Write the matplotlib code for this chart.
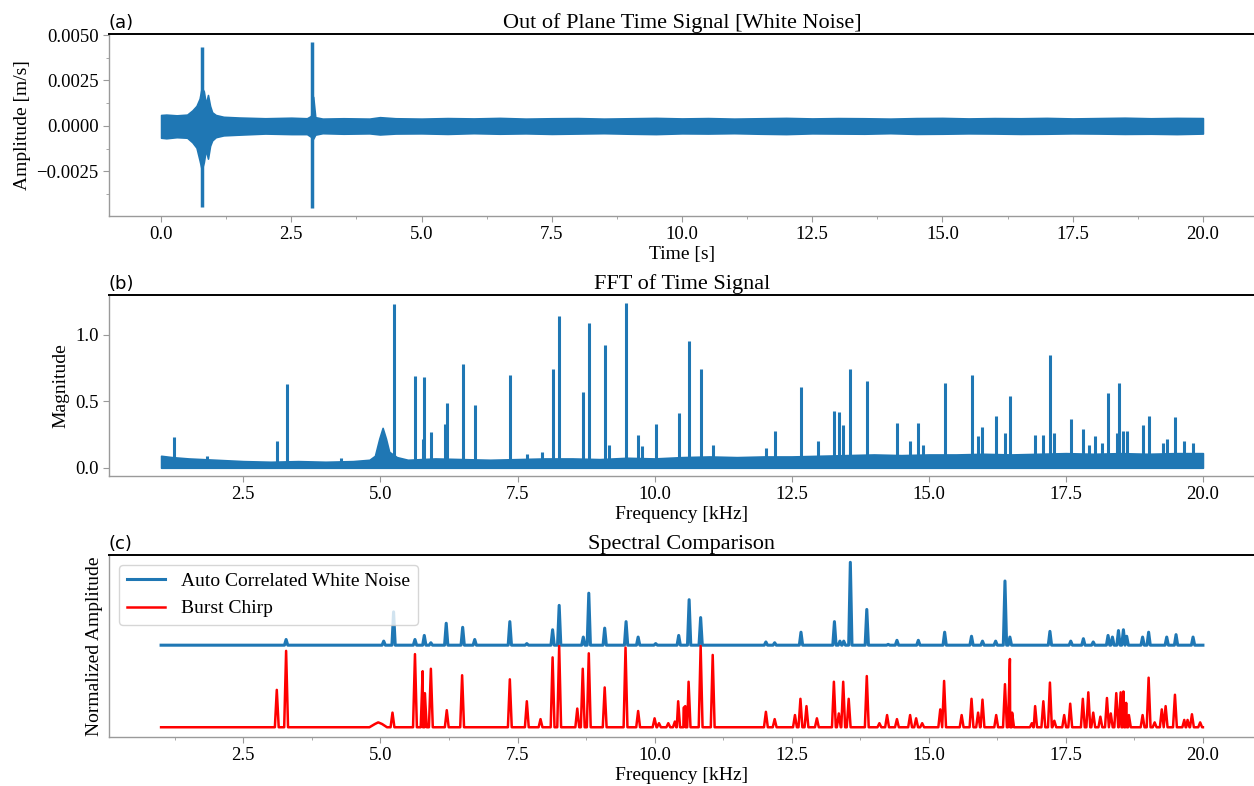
import matplotlib
matplotlib.use("Agg")
import matplotlib.pyplot as plt
from matplotlib.ticker import MultipleLocator, FuncFormatter
import numpy as np

plt.rcParams['font.family'] = 'serif'
plt.rcParams['font.serif'] = ['Liberation Serif', 'DejaVu Serif']
plt.rcParams['axes.unicode_minus'] = True

BLUE = '#1f77b4'

# (a) time signal: noise band envelope [m/s] and the two impact spikes
time_env = [0.0, 0.1, 0.3, 0.5, 0.6, 0.68, 0.74, 0.78, 0.82, 0.86, 0.9, 0.94, 0.98, 1.05,
            1.2, 1.5, 2.0, 2.5, 2.8, 2.88, 2.92, 2.96, 3.1, 3.5, 4.0, 4.2, 4.5, 5.0,
            5.5, 6.0, 6.5, 7.0, 7.5, 8.0, 8.5, 9.0, 9.5, 10.0, 10.5, 11.0, 11.5, 12.0,
            12.5, 13.0, 13.5, 14.0, 14.5, 15.0, 15.5, 16.0, 16.5, 17.0, 17.5, 18.0,
            18.5, 19.0, 19.5, 20.0]
env_upper = [0.00060, 0.00062, 0.00058, 0.00062, 0.00085, 0.00110, 0.00150, 0.00210,
             0.00190, 0.00120, 0.00170, 0.00110, 0.00075, 0.00060, 0.00050, 0.00046,
             0.00042, 0.00045, 0.00042, 0.00055, 0.00160, 0.00048, 0.00040, 0.00042,
             0.00040, 0.00048, 0.00042, 0.00040, 0.00043, 0.00041, 0.00044, 0.00040,
             0.00042, 0.00043, 0.00040, 0.00042, 0.00044, 0.00041, 0.00043, 0.00040,
             0.00042, 0.00044, 0.00041, 0.00043, 0.00042, 0.00040, 0.00043, 0.00044,
             0.00041, 0.00043, 0.00042, 0.00044, 0.00041, 0.00043, 0.00045, 0.00042,
             0.00044, 0.00043]
env_lower = [-0.00065, -0.00068, -0.00062, -0.00065, -0.00090, -0.00120, -0.00190, -0.00240,
             -0.00200, -0.00130, -0.00180, -0.00110, -0.00080, -0.00062, -0.00052, -0.00048,
             -0.00042, -0.00045, -0.00045, -0.00060, -0.00070, -0.00048, -0.00040, -0.00043,
             -0.00041, -0.00047, -0.00042, -0.00041, -0.00044, -0.00040, -0.00043, -0.00041,
             -0.00044, -0.00042, -0.00040, -0.00043, -0.00045, -0.00041, -0.00042, -0.00040,
             -0.00043, -0.00045, -0.00041, -0.00042, -0.00043, -0.00040, -0.00044, -0.00043,
             -0.00041, -0.00042, -0.00044, -0.00043, -0.00041, -0.00042, -0.00044, -0.00043,
             -0.00045, -0.00042]
spike_t = [0.78, 2.90]
spike_hi = [0.00434, 0.00460]
spike_lo = [-0.00445, -0.00450]

# (b) FFT magnitude: noise floor and resonance peaks [kHz]
floor_f = [1.0, 1.2, 1.5, 2.0, 2.5, 3.0, 3.5, 4.0, 4.5, 4.8, 4.9, 4.98, 5.04, 5.1, 5.16,
           5.3, 5.5, 6.0, 6.5, 7.0, 7.5, 8.0, 8.5, 9.0, 9.5, 10.0, 10.5, 11.0, 11.5,
           12.0, 12.5, 13.0, 13.5, 14.0, 14.5, 15.0, 15.5, 16.0, 16.5, 17.0, 17.5,
           18.0, 18.5, 19.0, 19.5, 20.0]
floor_mag = [0.09, 0.08, 0.07, 0.06, 0.05, 0.045, 0.05, 0.045, 0.05, 0.06, 0.09, 0.22,
             0.30, 0.22, 0.12, 0.08, 0.06, 0.07, 0.065, 0.06, 0.065, 0.07, 0.07, 0.065,
             0.075, 0.07, 0.08, 0.085, 0.08, 0.085, 0.085, 0.09, 0.095, 0.10, 0.095,
             0.10, 0.10, 0.105, 0.10, 0.105, 0.11, 0.105, 0.11, 0.105, 0.11, 0.11]
fft_peak_f = [1.23, 1.84, 3.11, 3.30, 4.28, 5.24, 5.63, 5.77, 5.80, 5.92, 6.17, 6.21, 6.50,
              6.72, 7.36, 7.67, 7.94, 8.14, 8.26, 8.70, 8.80, 9.09, 9.17, 9.48, 9.70,
              9.77, 10.02, 10.44, 10.63, 10.84, 11.06, 12.03, 12.19, 12.67, 12.98, 13.28,
              13.36, 13.44, 13.57, 13.87, 14.42, 14.66, 14.81, 14.89, 15.29, 15.78, 15.90,
              15.98, 16.23, 16.39, 16.48, 16.94, 17.09, 17.21, 17.29, 17.59, 17.82, 17.93,
              18.04, 18.16, 18.27, 18.43, 18.47, 18.55, 18.61, 18.90, 19.01, 19.27, 19.34,
              19.50, 19.66, 19.82]
fft_peak_mag = [0.235, 0.085, 0.20, 0.63, 0.07, 1.23, 0.69, 0.22, 0.68, 0.27, 0.33, 0.49,
                0.78, 0.47, 0.70, 0.10, 0.12, 0.74, 1.14, 0.57, 1.09, 0.92, 0.17, 1.24,
                0.25, 0.16, 0.33, 0.41, 0.955, 0.74, 0.17, 0.15, 0.28, 0.61, 0.20, 0.43,
                0.42, 0.32, 0.74, 0.65, 0.34, 0.20, 0.34, 0.17, 0.64, 0.70, 0.24, 0.31,
                0.39, 0.26, 0.54, 0.25, 0.25, 0.85, 0.26, 0.37, 0.29, 0.17, 0.24, 0.19,
                0.56, 0.26, 0.64, 0.28, 0.28, 0.32, 0.39, 0.19, 0.22, 0.38, 0.20, 0.19]

# (c) normalized spectra; white noise trace is stacked above the chirp trace
noise_base = 1.01
noise_peak_f = [3.28, 5.06, 5.24, 5.63, 5.80, 5.92, 6.20, 6.50, 6.72, 7.36, 7.67, 8.14, 8.26,
                8.70, 8.80, 9.09, 9.48, 9.70, 10.02, 10.44, 10.63, 10.84, 12.03, 12.19,
                12.67, 13.28, 13.38, 13.45, 13.57, 13.87, 14.26, 14.42, 14.81, 15.29,
                15.78, 15.98, 16.22, 16.39, 16.48, 17.21, 17.59, 17.82, 18.00, 18.27,
                18.35, 18.46, 18.55, 18.61, 18.90, 19.01, 19.34, 19.51, 19.82]
noise_peak_amp = [1.08, 1.06, 1.42, 1.08, 1.13, 1.04, 1.28, 1.23, 1.08, 1.30, 1.03, 1.20,
                  1.50, 1.11, 1.65, 1.22, 1.30, 1.11, 1.03, 1.13, 1.57, 1.35, 1.05, 1.04,
                  1.17, 1.30, 1.06, 1.06, 2.03, 1.45, 1.02, 1.07, 1.07, 1.17, 1.12, 1.06,
                  1.06, 1.80, 1.11, 1.18, 1.06, 1.09, 1.05, 1.13, 1.11, 1.19, 1.20, 1.12,
                  1.11, 1.17, 1.11, 1.14, 1.11]
chirp_base = 0.0
chirp_peak_f = [3.11, 3.28, 5.22, 5.63, 5.77, 5.81, 5.92, 6.21, 6.49, 7.36, 7.67, 7.92,
                8.14, 8.26, 8.59, 8.69, 8.80, 9.09, 9.47, 9.70, 10.00, 10.08, 10.25, 10.37,
                10.43, 10.53, 10.56, 10.62, 10.84, 11.06, 12.03, 12.19, 12.56, 12.66,
                12.77, 12.96, 13.27, 13.36, 13.44, 13.54, 13.87, 14.10, 14.24, 14.42,
                14.66, 14.77, 14.88, 15.21, 15.28, 15.60, 15.78, 15.90, 15.98, 16.23,
                16.39, 16.48, 16.52, 16.88, 16.94, 17.09, 17.21, 17.29, 17.47, 17.58,
                17.81, 17.91, 18.00, 18.13, 18.25, 18.32, 18.42, 18.50, 18.55, 18.60,
                18.65, 18.90, 19.01, 19.12, 19.25, 19.32, 19.49, 19.66, 19.72, 19.80, 19.95]
chirp_peak_amp = [0.46, 0.94, 0.18, 0.90, 0.69, 0.42, 0.72, 0.21, 0.64, 0.59, 0.32, 0.10,
                  0.86, 1.00, 0.23, 0.72, 0.91, 0.49, 0.98, 0.20, 0.11, 0.05, 0.05, 0.07,
                  0.32, 0.24, 0.26, 0.56, 1.00, 0.89, 0.19, 0.10, 0.15, 0.35, 0.26, 0.11,
                  0.56, 0.17, 0.56, 0.35, 0.63, 0.05, 0.15, 0.10, 0.15, 0.11, 0.05, 0.22,
                  0.57, 0.15, 0.35, 0.18, 0.34, 0.15, 0.53, 0.84, 0.18, 0.05, 0.26, 0.32,
                  0.55, 0.08, 0.15, 0.29, 0.35, 0.43, 0.18, 0.13, 0.36, 0.17, 0.42, 0.43,
                  0.44, 0.30, 0.15, 0.15, 0.61, 0.06, 0.22, 0.26, 0.40, 0.09, 0.09, 0.16, 0.06]
chirp_hump_f = [4.80, 4.90, 4.96, 5.03, 5.12]
chirp_hump_amp = [0.0, 0.04, 0.06, 0.04, 0.0]


def spectrum_trace(base, freqs, amps, half_width, extra_f=(), extra_a=()):
    # narrow spikes joined by a flat baseline from 1 to 20 kHz
    pts = [(1.0, base), (20.0, base)]
    for f, a in zip(freqs, amps):
        pts += [(f - half_width, base), (f, a), (f + half_width, base)]
    for f, a in zip(extra_f, extra_a):
        pts.append((f, base + a))
    pts.sort(key=lambda p: p[0])
    return [p[0] for p in pts], [p[1] for p in pts]


def style_axes(ax):
    ax.spines['right'].set_visible(False)
    ax.spines['top'].set_color('black')
    ax.spines['top'].set_linewidth(1.4)
    for side in ('left', 'bottom'):
        ax.spines[side].set_color('#9a9a9a')
        ax.spines[side].set_linewidth(1.0)
    ax.tick_params(which='both', direction='out', color='#9a9a9a', labelsize=13.5)
    ax.tick_params(which='major', length=4)
    ax.tick_params(which='minor', length=2.5)


fig = plt.figure(figsize=(12.54, 7.86), dpi=100)
left, width = 109 / 1254, 1146 / 1254
ax_a = fig.add_axes([left, 1 - 216 / 786, width, 182 / 786])
ax_b = fig.add_axes([left, 1 - 476 / 786, width, 181 / 786])
ax_c = fig.add_axes([left, 1 - 737 / 786, width, 182 / 786])

# (a)
ax_a.fill_between(time_env, env_lower, env_upper, color=BLUE, linewidth=1.2, edgecolor=BLUE)
ax_a.vlines(spike_t, spike_lo, spike_hi, color=BLUE, linewidth=2.5)
ax_a.set_xlim(-1.0, 21.0)
ax_a.xaxis.set_major_locator(MultipleLocator(2.5))
ax_a.xaxis.set_minor_locator(MultipleLocator(1.25))
ax_a.yaxis.set_major_locator(MultipleLocator(0.0025))
ax_a.yaxis.set_minor_locator(MultipleLocator(0.00125))
ax_a.yaxis.set_major_formatter(FuncFormatter(lambda v, pos: f'{v:.4f}'.replace('-', '\u2212')))
ax_a.set_xlabel('Time [s]', fontsize=14, labelpad=2)
ax_a.set_ylabel('Amplitude [m/s]', fontsize=14)
ax_a.set_title('Out of Plane Time Signal [White Noise]', fontsize=16, pad=4)
ax_a.set_title('(a)', loc='left', fontsize=13, fontfamily='DejaVu Sans', pad=4)

# (b)
ax_b.fill_between(floor_f, 0, floor_mag, color=BLUE, linewidth=1.2, edgecolor=BLUE)
ax_b.vlines(fft_peak_f, 0, fft_peak_mag, color=BLUE, linewidth=2.2)
ax_b.set_xlim(0.05, 20.95)
ax_b.set_ylim(-0.062, 1.30)
ax_b.xaxis.set_major_locator(MultipleLocator(2.5))
ax_b.yaxis.set_major_locator(MultipleLocator(0.5))
ax_b.set_xlabel('Frequency [kHz]', fontsize=14, labelpad=2)
ax_b.set_ylabel('Magnitude', fontsize=14)
ax_b.set_title('FFT of Time Signal', fontsize=16, pad=4)
ax_b.set_title('(b)', loc='left', fontsize=13, fontfamily='DejaVu Sans', pad=4)

# (c)
nx, ny = spectrum_trace(noise_base, noise_peak_f, noise_peak_amp, 0.03)
cx, cy = spectrum_trace(chirp_base, chirp_peak_f, chirp_peak_amp, 0.035,
                        chirp_hump_f, chirp_hump_amp)
ax_c.plot(nx, ny, color=BLUE, linewidth=2.2, label='Auto Correlated White Noise')
ax_c.plot(cx, cy, color='red', linewidth=1.8, label='Burst Chirp')
ax_c.set_xlim(0.05, 20.95)
ax_c.set_ylim(-0.12, 2.12)
ax_c.set_yticks([])
ax_c.xaxis.set_major_locator(MultipleLocator(2.5))
ax_c.xaxis.set_minor_locator(MultipleLocator(1.25))
ax_c.set_xlabel('Frequency [kHz]', fontsize=14, labelpad=2)
ax_c.set_ylabel('Normalized Amplitude', fontsize=14)
ax_c.set_title('Spectral Comparison', fontsize=16, pad=4)
ax_c.set_title('(c)', loc='left', fontsize=13, fontfamily='DejaVu Sans', pad=4)
ax_c.legend(loc='upper left', fontsize=14, handlelength=2.0)

for ax in (ax_a, ax_b, ax_c):
    style_axes(ax)

fig.savefig('out.png', dpi=100)
